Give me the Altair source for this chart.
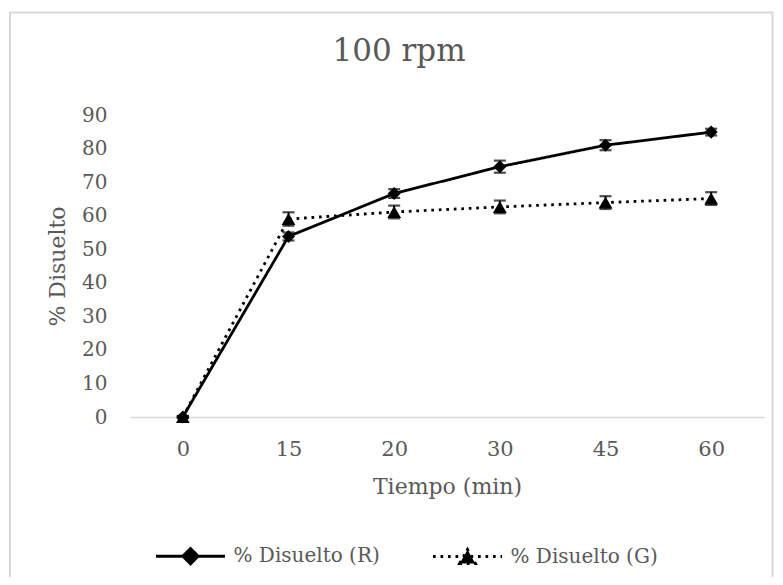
import altair as alt
import pandas as pd

tiempos = ["0", "15", "20", "30", "45", "60"]
serie_r = "% Disuelto (R)"
serie_g = "% Disuelto (G)"
valores_r = [0.0, 53.8, 66.6, 74.6, 81.0, 84.9]
error_r = [0.3, 1.2, 1.3, 1.8, 1.5, 1.0]
valores_g = [0.0, 59.0, 61.1, 62.6, 63.9, 65.1]
error_g = [0.3, 2.0, 1.9, 1.9, 1.9, 1.9]
y_ticks = [0, 10, 20, 30, 40, 50, 60, 70, 80, 90]

rows = []
for t, v, e in zip(tiempos, valores_r, error_r):
    rows.append({"t": t, "serie": serie_r, "marca": "R", "v": v, "lo": v - e, "hi": v + e})
for t, v, e in zip(tiempos, valores_g, error_g):
    rows.append({"t": t, "serie": serie_g, "marca": "G", "v": v, "lo": v - e, "hi": v + e})
df = pd.DataFrame(rows)

FONT = "DejaVu Serif"
GREY = "#595959"
series = [serie_r, serie_g]

path_r = "M-1,0L1,0M0,-0.22L0.22,0L0,0.22L-0.22,0Z"
path_g = "M-1,0L1,0M-0.227,0.2L0,-0.2L0.227,0.2Z"
shape_expr = "datum.value == '" + serie_r + "' ? '" + path_r + "' : '" + path_g + "'"

x_axis = alt.Axis(
    title="Tiempo (min)",
    labelAngle=0,
    ticks=False,
    domain=True,
    domainColor="#d9d9d9",
    domainWidth=1.5,
    labelPadding=21,
    titlePadding=17,
    labelFont=FONT,
    labelFontSize=21,
    labelColor=GREY,
    titleFont=FONT,
    titleFontSize=22,
    titleFontWeight="normal",
    titleColor=GREY,
    grid=False,
)
y_axis = alt.Axis(
    title="% Disuelto",
    values=y_ticks,
    grid=False,
    domain=False,
    ticks=False,
    labelOverlap=False,
    labelPadding=23,
    titlePadding=12,
    labelFont=FONT,
    labelFontSize=20,
    labelColor=GREY,
    titleFont=FONT,
    titleFontSize=22,
    titleFontWeight="normal",
    titleColor=GREY,
)
x_scale = alt.Scale(type="point", padding=0.5)
y_scale = alt.Scale(domain=[0, 90], nice=False, zero=True)


def xe():
    return alt.X("t:O", sort=tiempos, scale=x_scale, axis=x_axis)


def ye(field):
    return alt.Y(field + ":Q", scale=y_scale, axis=y_axis)


base = alt.Chart(df)

lines = base.mark_line(color="black", strokeWidth=2.8).encode(
    x=xe(),
    y=ye("v"),
    strokeDash=alt.StrokeDash(
        "serie:N",
        sort=series,
        scale=alt.Scale(domain=series, range=[[1, 0], [2.7, 4.8]]),
        legend=alt.Legend(
            title=None,
            orient="none",
            direction="horizontal",
            legendX=24.5,
            legendY=405,
            padding=0,
            symbolSize=4761,
            symbolStrokeWidth=3,
            symbolStrokeColor="black",
            symbolFillColor="black",
            symbolType=alt.ExprRef(expr=shape_expr),
            labelOffset=7,
            columnPadding=46,
            labelFont=FONT,
            labelFontSize=20,
            labelColor=GREY,
            labelLimit=300,
        ),
    ),
    detail="serie:N",
)

rules = base.mark_rule(color="black", strokeWidth=1.8).encode(
    x=xe(),
    y=ye("lo"),
    y2="hi:Q",
)
caps_hi = base.mark_tick(color="black", size=12, thickness=2.2).encode(
    x=xe(),
    y=ye("hi"),
)
caps_lo = base.mark_tick(color="black", size=12, thickness=2.2).encode(
    x=xe(),
    y=ye("lo"),
)

points = base.mark_point(filled=True, color="black", opacity=1).encode(
    x=xe(),
    y=ye("v"),
    shape=alt.Shape(
        "marca:N",
        scale=alt.Scale(domain=["R", "G"], range=["diamond", "triangle-up"]),
        legend=None,
    ),
    size=alt.Size(
        "marca:N",
        scale=alt.Scale(domain=["R", "G"], range=[170, 190]),
        legend=None,
    ),
)

frame = alt.Chart(pd.DataFrame({"k": [0]})).mark_rect(
    fill=None, stroke="#d9d9d9", strokeWidth=2
).encode(
    x=alt.value(-120),
    x2=alt.value(642.5),
    y=alt.value(-102.5),
    y2=alt.value(480),
)

chart = alt.layer(frame, lines, rules, caps_hi, caps_lo, points).properties(
    width=634,
    height=302,
    title=alt.TitleParams(
        "100 rpm",
        font=FONT,
        fontSize=31,
        fontWeight="normal",
        color=GREY,
        anchor="middle",
        baseline="alphabetic",
        dx=-48,
        offset=-80,
    ),
    autosize=alt.AutoSizeParams(type="none"),
    padding={"left": 122, "top": 107, "right": 11, "bottom": 160},
).configure(
    background="white",
    view=alt.ViewConfig(strokeWidth=0, stroke="transparent"),
)

chart.save("out.html", embed_options={"renderer": "svg", "actions": False})
